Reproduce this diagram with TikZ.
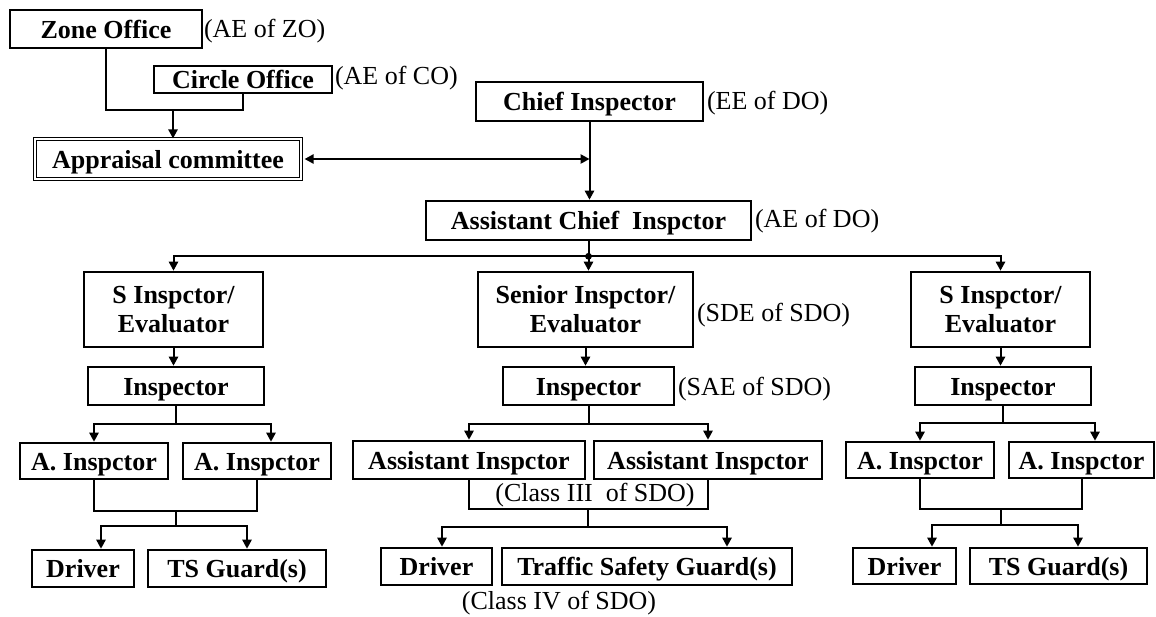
\documentclass[tikz,border=0pt]{standalone}
\usepackage{fontspec}
\setmainfont{Liberation Serif}
\usetikzlibrary{arrows.meta}
\begin{document}
\begin{tikzpicture}[x=0.5pt,y=-0.5pt,line width=1pt,
	>={Triangle[length=4.5pt,width=4.6pt]},
	box/.style={draw,line width=1.3pt,font=\fontsize{13}{14.5}\selectfont\bfseries,align=center,inner sep=0pt},
	one/.style={box,text height=11pt,text depth=2pt},
	lbl/.style={font=\fontsize{13}{14.5}\selectfont,inner sep=0pt,anchor=west}]
	\useasboundingbox (0,0) rectangle (1156,616);
	% top offices
	\node[one,minimum width=96pt,minimum height=19pt] (zo) at (106,29) {Zone Office};
	\node[one,minimum width=89pt,minimum height=13.5pt] (co) at (243,79.5) {Circle Office};
	\node[one,line width=0.6pt,double,double distance=1.2pt,minimum width=133pt,minimum height=20pt] (ac) at (168,159) {Appraisal committee};
	\node[one,minimum width=113.5pt,minimum height=19.5pt] (ci) at (589.5,101.5) {Chief Inspector};
	\node[one,minimum width=162.5pt,minimum height=19.5pt] (aci) at (588.5,220.5) {Assistant Chief\ \ Inspctor};
	\node[lbl] (lzo) at (203,31) {(AE of ZO)};
	\node[lbl] (lco) at (334,78) {(AE of CO)};
	\node[lbl] (lci) at (706,103) {(EE of DO)};
	\node[lbl] (laci) at (754,221) {(AE of DO)};
	% second level
	\node[box,minimum width=89.5pt,minimum height=37.5pt] (sl) at (173.5,309.5) {S Inspctor/\\Evaluator};
	\node[box,minimum width=107.5pt,minimum height=37.5pt] (sm) at (585.5,309.5) {Senior Inspctor/\\Evaluator};
	\node[box,minimum width=89.5pt,minimum height=37.5pt] (sr) at (1000.5,309.5) {S Inspctor/\\Evaluator};
	\node[lbl] (lsm) at (696,315) {(SDE of SDO)};
	\node[one,minimum width=88pt,minimum height=19pt] (il) at (176,386) {Inspector};
	\node[one,minimum width=85.5pt,minimum height=19pt] (im) at (588.5,386) {Inspector};
	\node[one,minimum width=88pt,minimum height=19pt] (ir) at (1003,386) {Inspector};
	\node[lbl] (lim) at (677,389) {(SAE of SDO)};
	% assistants
	\node[one,minimum width=74pt,minimum height=18pt] (al1) at (94,461) {A. Inspctor};
	\node[one,minimum width=74pt,minimum height=18pt] (al2) at (257,461) {A. Inspctor};
	\node[one,minimum width=116pt,minimum height=19pt] (am1) at (469,460) {Assistant Inspctor};
	\node[one,minimum width=114pt,minimum height=19pt] (am2) at (708,460) {Assistant Inspctor};
	\node[one,minimum width=74pt,minimum height=18pt] (ar1) at (920,460) {A. Inspctor};
	\node[one,minimum width=72.5pt,minimum height=18pt] (ar2) at (1081.5,460) {A. Inspctor};
	\node[lbl,anchor=center] (lam) at (595,495) {(Class III\ \ of SDO)};
	% drivers and guards
	\node[one,minimum width=51pt,minimum height=18.5pt] (dl) at (83,568.5) {Driver};
	\node[one,minimum width=89pt,minimum height=18.5pt] (tl) at (237,568.5) {TS Guard(s)};
	\node[one,minimum width=55.5pt,minimum height=18.5pt] (dm) at (436.5,566.5) {Driver};
	\node[one,minimum width=145pt,minimum height=18.5pt] (tm) at (647,566.5) {Traffic Safety Guard(s)};
	\node[one,minimum width=51.5pt,minimum height=18pt] (dr) at (904.5,566) {Driver};
	\node[one,minimum width=88.5pt,minimum height=18pt] (tr) at (1058.5,566) {TS Guard(s)};
	\node[lbl,anchor=center] (ldm) at (559,603) {(Class IV of SDO)};
	% connectors
	\coordinate (jz) at (173,110);
	\draw (zo.south) |- (jz) -| (co.south);
	\draw[->] (jz) -- (jz |- ac.north);
	\draw[->] (ci.south) -- (ci.south |- aci.north);
	\draw[<->,shorten <=1.5pt] (ac.east) -- (ac.east -| ci.south);
	\draw (aci.south) -- ++(0,15) coordinate (jb);
	\fill (jb) circle (1.7pt);
	\draw[->] (jb) -| (sl.north);
	\draw[->] (jb) -- (jb |- sm.north);
	\draw[->] (jb) -| (sr.north);
	\foreach \s/\i in {sl/il,sm/im,sr/ir} {\draw[->] (\s.south) -- (\s.south |- \i.north);}
	\draw (il.south) -- ++(0,18) coordinate (jl);
	\draw[->] (jl) -| (al1.north);
	\draw[->] (jl) -| ([xshift=7pt]al2.north);
	\draw (im.south) -- ++(0,18) coordinate (jm);
	\draw[->] (jm) -| (am1.north);
	\draw[->] (jm) -| (am2.north);
	\draw (ir.south) -- ++(0,17) coordinate (jr);
	\draw[->] (jr) -| (ar1.north);
	\draw[->] (jr) -| ([xshift=6.75pt]ar2.north);
	\coordinate (kl) at (176,511);
	\draw (al1.south) |- (kl) -| (al2.south);
	\draw (kl) -- ++(0,15) coordinate (ml);
	\draw[->] (ml) -| ([xshift=9pt]dl.north);
	\draw[->] (ml) -| ([xshift=5pt]tl.north);
	\coordinate (km) at (588,509);
	\draw (am1.south) |- (km) -| (am2.south);
	\draw (km) -- ++(0,18) coordinate (mm);
	\draw[->] (mm) -| ([xshift=2.75pt]dm.north);
	\draw[->] (mm) -| ([xshift=40pt]tm.north);
	\coordinate (kr) at (1001,509);
	\draw (ar1.south) |- (kr) -| (ar2.south);
	\draw (kr) -- ++(0,16) coordinate (mr);
	\draw[->] (mr) -| ([xshift=13.75pt]dr.north);
	\draw[->] (mr) -| ([xshift=9.75pt]tr.north);
\end{tikzpicture}
\end{document}
